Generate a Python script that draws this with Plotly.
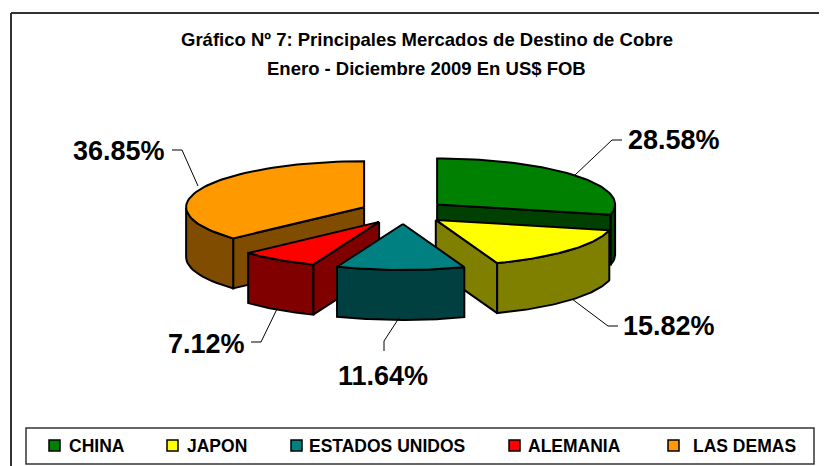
import math
import plotly.graph_objects as go

categories = ["CHINA", "JAPON", "ESTADOS UNIDOS", "ALEMANIA", "LAS DEMAS"]
shares = [28.58, 15.82, 11.64, 7.12, 36.85]
top_colors = ["#008000", "#FFFF00", "#008080", "#FF0000", "#FF9900"]
side_colors = ["#004000", "#808000", "#004040", "#800000", "#804C00"]
title_lines = ["Gráfico Nº 7: Principales Mercados de Destino de Cobre",
               "Enero - Diciembre 2009 En US$ FOB"]

# projection of the tilted pie (page pixels, mapped through the axes)
CX, CY, RX, RY, EX, EY, DEPTH = 403.5, 212, 178, 46, 43, 12, 50
W, H = 827, 466
PAGE_MARGIN = 8  # the page body's own margin

total = sum(shares)
spans = []
a = 0.0
for s in shares:
    b = a + 2 * math.pi * s / total
    spans.append((a, b))
    a = b

def slice_geom(i):
    a, b = spans[i]
    m = (a + b) / 2
    ax, ay = CX + EX * math.sin(m), CY - EY * math.cos(m)
    n = 60
    arc = [a + (b - a) * k / n for k in range(n + 1)]
    xs = [ax + RX * math.sin(t) for t in arc]
    ys = [ay - RY * math.cos(t) for t in arc]
    return ax, ay, arc, xs, ys

fig = go.Figure()

def poly(x, y, color, width=2):
    fig.add_trace(go.Scatter(x=x + x[:1], y=y + y[:1], mode="lines", fill="toself",
                             fillcolor=color, line=dict(color="#000000", width=width),
                             hoverinfo="skip", showlegend=False))

def draw_slice(i, faces):
    ax, ay, arc, xs, ys = slice_geom(i)
    side = side_colors[i]
    # straight cut faces, from the apex to either end of the rim
    for end in faces:
        px, py = xs[end], ys[end]
        poly([ax, px, px, ax], [ay, py, py + DEPTH, ay + DEPTH], side)
    # outer wall: only the part of the rim that faces the viewer
    front = [k for k, t in enumerate(arc) if math.cos(t) <= 0]
    if front:
        fx = [xs[k] for k in front]
        fy = [ys[k] for k in front]
        poly(fx + fx[::-1], fy + [v + DEPTH for v in fy[::-1]], side)
    poly([ax] + xs, [ay] + ys, top_colors[i])

# painter's order, back to front
draw_slice(0, [-1])
draw_slice(1, [-1])
draw_slice(4, [0])
draw_slice(3, [0])
draw_slice(2, [])

# frame (open at the right and bottom, as cropped)
fig.add_shape(type="line", x0=11, y0=13, x1=W + PAGE_MARGIN, y1=13, line=dict(color="#333333", width=2))
fig.add_shape(type="line", x0=11, y0=13, x1=11, y1=H + PAGE_MARGIN, line=dict(color="#333333", width=2))
fig.add_shape(type="rect", x0=26, y0=428, x1=814, y1=464, line=dict(color="#333333", width=1.5),
              fillcolor="rgba(0,0,0,0)")

FONT = "Liberation Sans"
# title
for line, y in zip(title_lines, (39, 68)):
    fig.add_annotation(x=426.5, y=y, text=f"<b>{line}</b>", showarrow=False,
                       font=dict(family=FONT, size=18.5, color="#000000"))

# data labels + leader lines
label_x = [673.5, 668.5, 383, 206, 119]
label_y = [140, 326, 376, 344, 151]
leaders = [[(575, 175), (612, 140), (622, 140)],
           [(572, 299), (608, 326), (618, 326)],
           [(399, 318), (384, 341), (384, 351)],
           [(277, 309), (261, 342), (251, 342)],
           [(198, 186), (182, 150), (172, 150)]]
for i, s in enumerate(shares):
    pts = leaders[i]
    fig.add_trace(go.Scatter(x=[p[0] for p in pts], y=[p[1] for p in pts], mode="lines",
                             line=dict(color="#000000", width=1), hoverinfo="skip", showlegend=False))
    fig.add_annotation(x=label_x[i], y=label_y[i], text=f"<b>{s:.2f}%</b>", showarrow=False,
                       font=dict(family=FONT, size=27, color="#000000"))

# legend
swatch_x = [49, 167, 291, 509, 668]
text_x = [67, 185, 307, 526, 691]
for i, c in enumerate(categories):
    fig.add_shape(type="rect", x0=swatch_x[i], y0=440, x1=swatch_x[i] + 11, y1=451,
                  fillcolor=top_colors[i], line=dict(color="#000000", width=1.5))
    fig.add_annotation(x=text_x[i], y=445.5, text=f"<b>{c}</b>", showarrow=False, xanchor="left",
                       font=dict(family=FONT, size=17.5, color="#000000"))

fig.update_layout(width=W, height=H, margin=dict(l=0, r=0, t=0, b=0),
                  paper_bgcolor="#FFFFFF", plot_bgcolor="#FFFFFF", showlegend=False,
                  xaxis=dict(range=[PAGE_MARGIN, W + PAGE_MARGIN], visible=False, fixedrange=True),
                  yaxis=dict(range=[H + PAGE_MARGIN, PAGE_MARGIN], visible=False, fixedrange=True))
fig.write_html("out.html")
